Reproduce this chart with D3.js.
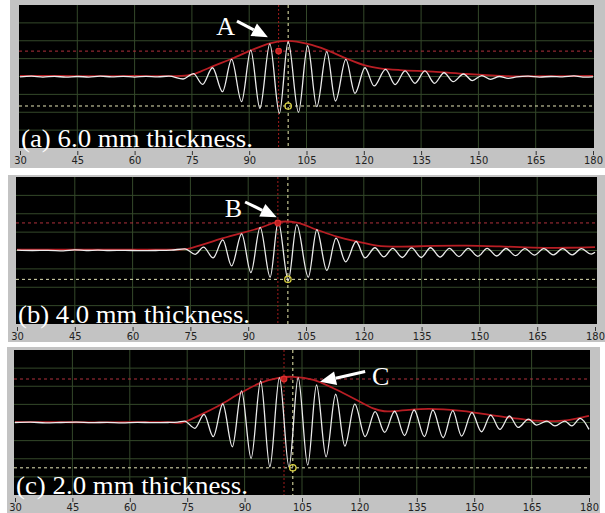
<!DOCTYPE html>
<html>
<head>
<meta charset="utf-8">
<script src="https://cdn.jsdelivr.net/npm/d3@7"></script>
<style>
  body { margin: 0; background: #fff; }
  svg { display: block; }
</style>
</head>
<body>
<svg id="chart" width="605" height="513"></svg>
<script>
// tick labels on the time axis
const xTicks = [30, 45, 60, 75, 90, 105, 120, 135, 150, 165, 180];
const yGrid = [-3, -2, -1, 0, 1, 2, 3];
const panelLabels = ["(a) 6.0 mm thickness.", "(b) 4.0 mm thickness.", "(c) 2.0 mm thickness."];
const peakLetters = ["A", "B", "C"];

// waveform (a): [time, amplitude]
const waveA = [
  [30, -0.02], [33, 0.02], [36, -0.03], [39, 0.01], [42, -0.04], [45, 0.0], [48, -0.03], [51, 0.02],
  [54, -0.02], [57, 0.01], [60, -0.03], [63, 0.01], [66, -0.02], [69, 0.02],
  [72.7, -0.14], [75.4, 0.16], [77.8, -0.44], [80.4, 0.49], [83.0, -0.85], [85.4, 0.96],
  [88.0, -1.41], [90.4, 1.48], [92.8, -1.78], [95.4, 1.82], [97.9, -2.06], [100.2, 1.95],
  [102.9, -2.0], [105.3, 1.72], [107.7, -1.69], [110.3, 1.39], [112.6, -1.37], [115.3, 0.96],
  [117.7, -0.94], [120.3, 0.49], [122.7, -0.53], [125.7, 0.4], [128.2, -0.45], [130.8, 0.32],
  [133.4, -0.38], [136.0, 0.31], [138.5, -0.38], [141.0, 0.21], [143.4, -0.29], [146.1, 0.14],
  [148.4, -0.23], [150.9, 0.05], [153.2, -0.16], [155.5, 0.0], [157.8, -0.1],
  [160, -0.02], [163, 0.02], [166, -0.03], [169, 0.0], [172, -0.02], [175, 0.03], [178, -0.04], [180, -0.02]
];
const envA = [
  [30, 0.03], [40, 0.03], [50, 0.02], [60, 0.03], [70, 0.02], [72, 0.03], [74.9, 0.1], [77.5, 0.3],
  [80.6, 0.58], [85, 0.95], [90.2, 1.43], [95.4, 1.86], [100.2, 1.99], [105.3, 1.82], [110.3, 1.48],
  [115.3, 1.02], [120.3, 0.62], [124.2, 0.46], [129.5, 0.36], [138.1, 0.27], [146.9, 0.14],
  [155.7, 0.04], [160, 0.01], [170, 0.02], [180, 0.03]
];
// red cursor time, red level, yellow cursor time, yellow level
const cursorA = [97.7, 1.42, 100.2, -1.65];

// waveform (b)
const waveB = [
  [30, 0.02], [34, 0.0], [38, 0.01], [42, -0.02], [45, 0.03], [48, 0.0], [51, 0.02], [54, 0.0],
  [58, 0.01], [62, -0.01], [66, 0.0], [70, 0.02],
  [73.6, 0.09], [76.2, -0.21], [78.4, 0.18], [80.9, -0.4], [83.4, 0.58], [85.7, -0.84], [88.3, 0.91],
  [90.7, -1.2], [93.1, 1.26], [95.7, -1.45], [97.8, 1.59], [100.4, -1.63], [102.6, 1.41],
  [105.6, -1.45], [107.8, 1.13], [110.4, -1.08], [112.8, 0.67], [115.3, -0.62], [118.0, 0.49],
  [120.3, -0.4], [122.9, 0.15], [125.2, -0.35], [127.5, 0.12], [130.0, -0.38], [132.4, 0.14],
  [134.9, -0.38], [137.3, 0.15], [139.8, -0.36], [142.2, 0.12], [144.7, -0.33], [147.1, 0.12],
  [149.6, -0.32], [152.0, 0.12], [154.5, -0.3], [156.9, 0.11], [159.4, -0.28], [161.8, 0.1],
  [164.3, -0.25], [166.7, 0.1], [169.2, -0.24], [171.6, 0.1], [174.1, -0.24], [176.5, 0.1],
  [179, -0.2], [180, -0.1]
];
const envB = [
  [30, 0.05], [40, 0.05], [50, 0.04], [60, 0.05], [70, 0.05], [73, 0.06], [74.9, 0.12], [83.5, 0.67],
  [93.1, 1.23], [97.4, 1.54], [102.6, 1.52], [107.8, 1.13], [113.0, 0.76], [118.2, 0.49],
  [123.4, 0.27], [129.4, 0.21], [138.0, 0.25], [146.6, 0.26], [155.3, 0.22], [164.0, 0.16],
  [172.7, 0.15], [180, 0.18]
];
const cursorB = [97.7, 1.5, 100.3, -1.57];

// waveform (c)
const waveC = [
  [30, 0.0], [34, 0.02], [38, -0.02], [42, 0.0], [46, 0.02], [50, -0.01], [54, 0.01], [58, -0.02],
  [62, 0.01], [66, -0.01], [70, 0.0], [72.5, 0.02],
  [74.3, 0.08], [77.0, -0.32], [79.4, 0.45], [81.8, -0.78], [84.3, 1.02], [86.8, -1.34], [89.2, 1.74],
  [91.7, -1.98], [94.2, 2.29], [96.6, -2.44], [99.1, 2.48], [101.6, -2.46], [104.0, 2.48],
  [106.5, -2.35], [108.8, 2.07], [111.3, -1.89], [113.8, 1.56], [116.2, -1.3], [118.8, 1.01],
  [121.5, -0.78], [124.1, 0.6], [126.6, -0.55], [129.2, 0.62], [131.8, -0.72], [134.3, 0.69],
  [137.0, -0.78], [139.2, 0.69], [141.9, -0.84], [144.4, 0.65], [146.7, -0.75], [149.4, 0.54],
  [151.9, -0.51], [154.3, 0.41], [156.7, -0.38], [159.2, 0.36], [161.5, -0.27], [164.2, 0.19],
  [166.3, -0.14], [169.0, 0.08], [171.1, -0.19], [173.7, 0.08], [175.5, -0.19], [177.7, 0.23],
  [180, -0.38]
];
const envC = [
  [30, 0.02], [40, 0.02], [50, 0.01], [60, 0.02], [70, 0.02], [73.7, 0.0], [78.3, 0.41], [83.6, 0.97],
  [88.8, 1.61], [94.0, 2.17], [99.2, 2.48], [102.7, 2.52], [108.0, 2.35], [113.2, 1.89],
  [118.4, 1.34], [123.6, 0.78], [126.5, 0.62], [129.4, 0.63], [133, 0.7], [138.1, 0.75],
  [142, 0.72], [146, 0.65], [150, 0.55], [154, 0.42], [158, 0.3], [162, 0.2], [166, 0.1],
  [170, 0.08], [174, 0.12], [177, 0.23], [180, 0.36]
];
const cursorC = [100.3, 2.4, 102.6, -2.5];

// layout of the three stacked scope panels (pixels)
const panels = [
  { frame: [10, 0, 595, 168], plot: [19, 5, 594, 148], axis: [20, 593],
    wave: waveA, env: envA, cursor: cursorA,
    arrow: { from: [86.8, 3.1], to: [94.9, 2.2], text: [86.3, 2.32], anchor: "end" } },
  { frame: [8, 175, 597, 167], plot: [16, 177, 597, 324], axis: [17, 595],
    wave: waveB, env: envB, cursor: cursorB,
    arrow: { from: [89.2, 2.64], to: [97.4, 1.81], text: [88.4, 1.85], anchor: "end" } },
  { frame: [7, 347, 593, 166], plot: [14, 350, 590, 495], axis: [15, 589],
    wave: waveC, env: envC, cursor: cursorC,
    arrow: { from: [121.5, 2.81], to: [109.7, 2.25], text: [123.3, 2.07], anchor: "start" } }
];

const svg = d3.select("#chart");

panels.forEach((p, i) => {
  const [px0, py0, px1, py1] = p.plot;

  const x = d3.scaleLinear().domain([30, 180]).range(p.axis);
  const y = d3.scaleLinear().domain([-4, 4]).range([py1, py0]);

  const g = svg.append("g");

  // grey window frame
  g.append("rect")
    .attr("x", p.frame[0]).attr("y", p.frame[1])
    .attr("width", p.frame[2]).attr("height", p.frame[3])
    .attr("fill", "#c3c3c3");

  g.append("rect")
    .attr("x", px0).attr("y", py0)
    .attr("width", px1 - px0).attr("height", py1 - py0)
    .attr("fill", "#000");

  g.append("clipPath").attr("id", "clip" + i)
    .append("rect")
    .attr("x", px0).attr("y", py0)
    .attr("width", px1 - px0).attr("height", py1 - py0);

  const inner = g.append("g").attr("clip-path", `url(#clip${i})`);

  // grid
  inner.selectAll(".vg")
    .data(xTicks.slice(1, -1))
    .enter().append("line")
    .attr("x1", d => x(d)).attr("x2", d => x(d))
    .attr("y1", py0).attr("y2", py1)
    .attr("stroke", "#34482a").attr("stroke-width", 1);

  inner.selectAll(".hg")
    .data(yGrid)
    .enter().append("line")
    .attr("x1", px0).attr("x2", px1)
    .attr("y1", d => y(d)).attr("y2", d => y(d))
    .attr("stroke", "#34482a").attr("stroke-width", 1);

  const [rx, ry, yx, yy] = p.cursor;

  // cursor lines
  inner.append("line")
    .attr("x1", px0).attr("x2", px1).attr("y1", y(ry)).attr("y2", y(ry))
    .attr("stroke", "#b0303c").attr("stroke-dasharray", "3,3");
  inner.append("line")
    .attr("x1", px0).attr("x2", px1).attr("y1", y(yy)).attr("y2", y(yy))
    .attr("stroke", "#e6e6b8").attr("stroke-dasharray", "3,3");
  inner.append("line")
    .attr("x1", x(rx)).attr("x2", x(rx)).attr("y1", py0).attr("y2", py1)
    .attr("stroke", "#a01c1c").attr("stroke-dasharray", "2,2");
  inner.append("line")
    .attr("x1", x(yx)).attr("x2", x(yx)).attr("y1", py0).attr("y2", py1)
    .attr("stroke", "#ececb0").attr("stroke-dasharray", "3,3");

  // envelope
  inner.append("path")
    .datum(p.env)
    .attr("fill", "none")
    .attr("stroke", "#b81e24")
    .attr("stroke-width", 1.8)
    .attr("d", d3.line().x(d => x(d[0])).y(d => y(d[1])).curve(d3.curveCatmullRom));

  // waveform
  inner.append("path")
    .datum(p.wave)
    .attr("fill", "none")
    .attr("stroke", "#ececec")
    .attr("stroke-width", 1.3)
    .attr("d", d3.line().x(d => x(d[0])).y(d => y(d[1])).curve(d3.curveMonotoneX));

  // cursor markers
  inner.append("circle")
    .attr("cx", x(rx)).attr("cy", y(ry)).attr("r", 2.8)
    .attr("fill", "#c02020").attr("stroke", "#e03030").attr("stroke-width", 1.2);
  inner.append("circle")
    .attr("cx", x(yx)).attr("cy", y(yy)).attr("r", 3.2)
    .attr("fill", "none").attr("stroke", "#d8d040").attr("stroke-width", 1.3);

  // axis
  const axis = g.append("g")
    .attr("transform", `translate(0,${py1 + 3})`)
    .call(d3.axisBottom(x).tickValues(xTicks).tickSize(4).tickPadding(1));
  axis.select(".domain").remove();
  axis.selectAll("line").attr("stroke", "#333");
  axis.selectAll("text")
    .attr("fill", "#222")
    .style("font-family", "'Liberation Sans Narrow', 'DejaVu Sans Condensed', sans-serif")
    .style("font-size", "11px");

  // panel caption
  g.append("text")
    .attr("x", px0 + 2)
    .attr("y", py1 - 1)
    .attr("fill", "#fff")
    .attr("textLength", 232)
    .attr("lengthAdjust", "spacingAndGlyphs")
    .style("font-family", "'Liberation Serif', 'Times New Roman', serif")
    .style("font-size", "25px")
    .text(panelLabels[i]);

  // peak letter with arrow
  const a = p.arrow;
  g.append("text")
    .attr("x", x(a.text[0]))
    .attr("y", y(a.text[1]))
    .attr("text-anchor", a.anchor)
    .attr("fill", "#fff")
    .style("font-family", "'Liberation Serif', 'Times New Roman', serif")
    .style("font-size", "26px")
    .text(peakLetters[i]);

  const x1 = x(a.from[0]), y1 = y(a.from[1]);
  const x2 = x(a.to[0]), y2 = y(a.to[1]);
  const ang = Math.atan2(y2 - y1, x2 - x1);
  const headLen = 16, headW = 7;
  const bx = x2 - headLen * Math.cos(ang), by = y2 - headLen * Math.sin(ang);
  g.append("line")
    .attr("x1", x1).attr("y1", y1).attr("x2", bx).attr("y2", by)
    .attr("stroke", "#fff").attr("stroke-width", 3);
  g.append("polygon")
    .attr("points", [
      [x2, y2],
      [bx - headW * Math.sin(ang), by + headW * Math.cos(ang)],
      [bx + headW * Math.sin(ang), by - headW * Math.cos(ang)]
    ].map(pt => pt.join(",")).join(" "))
    .attr("fill", "#fff");
});
</script>
</body>
</html>
